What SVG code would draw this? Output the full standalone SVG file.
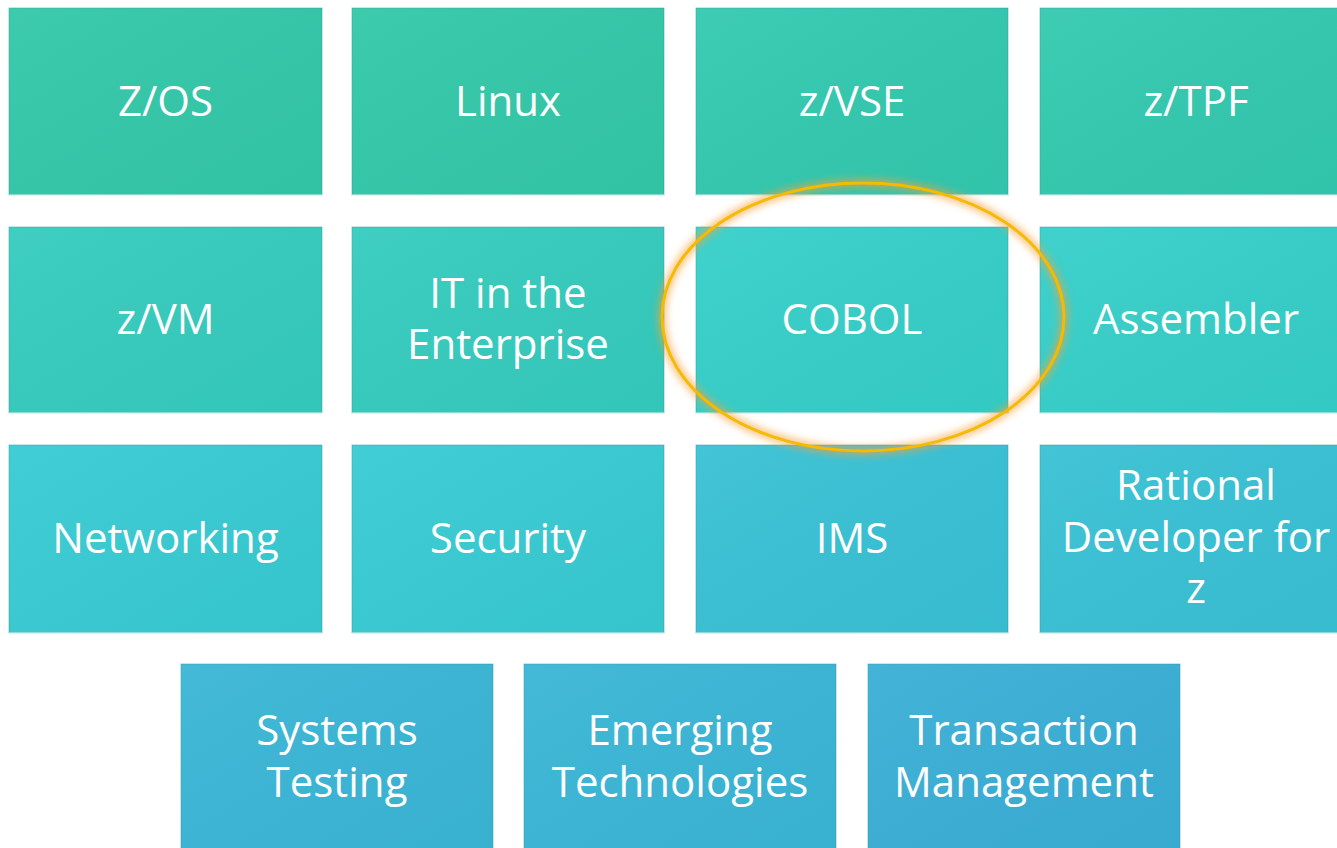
<svg xmlns="http://www.w3.org/2000/svg" width="1337" height="848" viewBox="0 0 1337 848">
<defs>
<linearGradient id="sheen" x1="0" y1="0" x2="1" y2="1">
<stop offset="0" stop-color="#ffffff" stop-opacity="0.05"/>
<stop offset="1" stop-color="#000000" stop-opacity="0.03"/>
</linearGradient>
<filter id="glow" x="-20%" y="-20%" width="140%" height="140%">
<feGaussianBlur stdDeviation="3.5"/>
</filter>
<style>
.tile{stroke:#2F9E98;stroke-opacity:0.5;stroke-width:1}
.r1{fill:#33C8A9}
.r1b{fill:#33C9B0}
.r2{fill:#35CCBE}
.r2b{fill:#36CFC9}
.r3{fill:#38CBD3}
.r3b{fill:#39C1D5}
.r4{fill:#3AB6D6}
.r4b{fill:#3AAFD6}
.sh{fill:url(#sheen)}
.edge{stroke:#ffffff;stroke-opacity:0.45;stroke-width:2}
.lbl{font-family:"Open Sans","Liberation Sans",sans-serif;font-size:42px;fill:#ffffff;text-anchor:middle}
</style>
</defs>
<rect width="1337" height="848" fill="#ffffff"/>
<g id="n-zos"><rect class="tile r1" x="9" y="8" width="313" height="187"/><rect class="sh" x="9" y="8" width="313" height="187"/><text class="lbl" x="165.5" y="116">Z/OS</text></g>
<g id="n-linux"><rect class="tile r1" x="352" y="8" width="312" height="187"/><rect class="sh" x="352" y="8" width="312" height="187"/><text class="lbl" x="508" y="116">Linux</text></g>
<g id="n-zvse"><rect class="tile r1b" x="696" y="8" width="312" height="187"/><rect class="sh" x="696" y="8" width="312" height="187"/><text class="lbl" x="852" y="116">z/VSE</text></g>
<g id="n-ztpf"><rect class="tile r1b" x="1040" y="8" width="312" height="187"/><rect class="sh" x="1040" y="8" width="312" height="187"/><text class="lbl" x="1196" y="116">z/TPF</text></g>

<g id="n-zvm"><rect class="tile r2" x="9" y="227" width="313" height="186"/><rect class="sh" x="9" y="227" width="313" height="186"/><text class="lbl" x="165.5" y="334">z/VM</text></g>
<g id="n-it"><rect class="tile r2" x="352" y="227" width="312" height="186"/><rect class="sh" x="352" y="227" width="312" height="186"/><text class="lbl" x="508" y="308">IT in the</text><text class="lbl" x="508" y="359">Enterprise</text></g>
<g id="n-cobol"><rect class="tile r2b" x="696" y="227" width="312" height="186"/><rect class="sh" x="696" y="227" width="312" height="186"/><text class="lbl" x="852" y="334">COBOL</text></g>
<g id="n-asm"><rect class="tile r2b" x="1040" y="227" width="312" height="186"/><rect class="sh" x="1040" y="227" width="312" height="186"/><text class="lbl" x="1196" y="334">Assembler</text></g>

<g id="n-net"><rect class="tile r3" x="9" y="445" width="313" height="188"/><rect class="sh" x="9" y="445" width="313" height="188"/><text class="lbl" x="165.5" y="553">Networking</text></g>
<g id="n-sec"><rect class="tile r3" x="352" y="445" width="312" height="188"/><rect class="sh" x="352" y="445" width="312" height="188"/><text class="lbl" x="508" y="553">Security</text></g>
<g id="n-ims"><rect class="tile r3b" x="696" y="445" width="312" height="188"/><rect class="sh" x="696" y="445" width="312" height="188"/><text class="lbl" x="852" y="553">IMS</text></g>
<g id="n-rdz"><rect class="tile r3b" x="1040" y="445" width="312" height="188"/><rect class="sh" x="1040" y="445" width="312" height="188"/><text class="lbl" x="1196" y="500">Rational</text><text class="lbl" x="1196" y="552">Developer for</text><text class="lbl" x="1196" y="603">z</text></g>

<g id="n-systest"><rect class="tile r4" x="181" y="664" width="312" height="190"/><rect class="sh" x="181" y="664" width="312" height="190"/><text class="lbl" x="337" y="745">Systems</text><text class="lbl" x="337" y="797">Testing</text></g>
<g id="n-emerg"><rect class="tile r4" x="524" y="664" width="312" height="190"/><rect class="sh" x="524" y="664" width="312" height="190"/><text class="lbl" x="680" y="745">Emerging</text><text class="lbl" x="680" y="797">Technologies</text></g>
<g id="n-trans"><rect class="tile r4b" x="868" y="664" width="312" height="190"/><rect class="sh" x="868" y="664" width="312" height="190"/><text class="lbl" x="1024" y="745">Transaction</text><text class="lbl" x="1024" y="797">Management</text></g>

<g id="edges">
<line class="edge" x1="9" y1="195" x2="322" y2="195"/><line class="edge" x1="352" y1="195" x2="664" y2="195"/><line class="edge" x1="696" y1="195" x2="1008" y2="195"/><line class="edge" x1="1040" y1="195" x2="1337" y2="195"/>
<line class="edge" x1="9" y1="413" x2="322" y2="413"/><line class="edge" x1="352" y1="413" x2="664" y2="413"/><line class="edge" x1="696" y1="413" x2="1008" y2="413"/><line class="edge" x1="1040" y1="413" x2="1337" y2="413"/>
<line class="edge" x1="9" y1="633" x2="322" y2="633"/><line class="edge" x1="352" y1="633" x2="664" y2="633"/><line class="edge" x1="696" y1="633" x2="1008" y2="633"/><line class="edge" x1="1040" y1="633" x2="1337" y2="633"/>
</g>

<g id="highlight">
<ellipse cx="863" cy="317" rx="201" ry="134" fill="none" stroke="#F5A23A" stroke-width="9" stroke-opacity="0.6" filter="url(#glow)"/>
<ellipse cx="863" cy="317" rx="201" ry="134" fill="none" stroke="#F6BA00" stroke-width="3"/>
</g>
</svg>
